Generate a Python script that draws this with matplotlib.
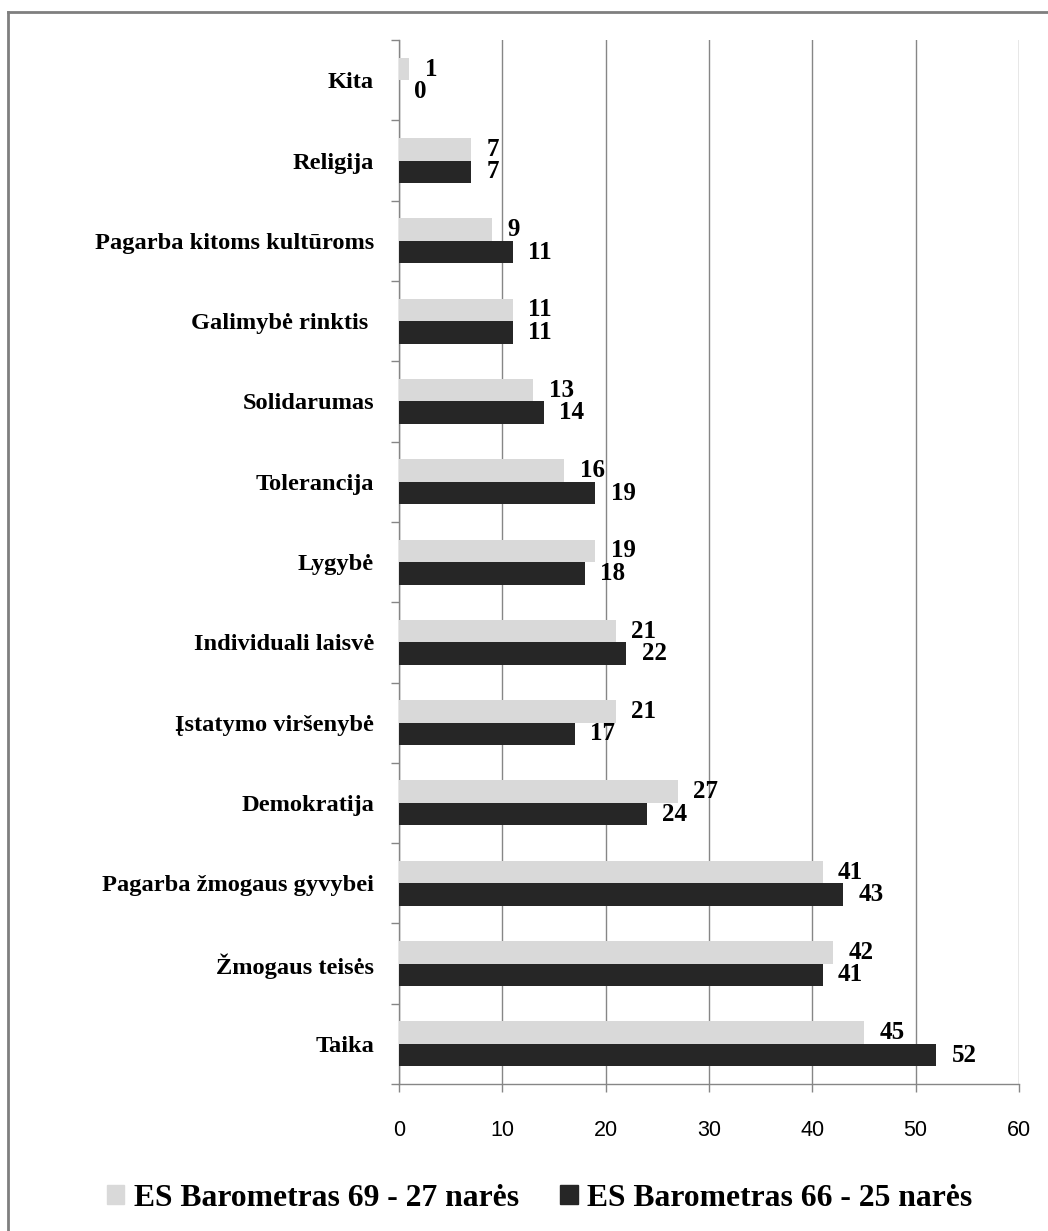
import numpy as np
import matplotlib.pyplot as plt
from matplotlib.patches import Patch
from matplotlib.lines import Line2D

categories = ['Taika', 'Žmogaus teisės', 'Pagarba žmogaus gyvybei', 'Demokratija',
              'Įstatymo viršenybė', 'Individuali laisvė', 'Lygybė', 'Tolerancija',
              'Solidarumas', 'Galimybė rinktis ', 'Pagarba kitoms kultūroms',
              'Religija', 'Kita']
eb69 = [45, 42, 41, 27, 21, 21, 19, 16, 13, 11, 9, 7, 1]
eb66 = [52, 41, 43, 24, 17, 22, 18, 19, 14, 11, 11, 7, 0]
series_names = ['ES Barometras 69 - 27 narės', 'ES Barometras 66 - 25 narės']
xticks = [0, 10, 20, 30, 40, 50, 60]

light = '#d9d9d9'
dark = '#262626'
grid_c = '#868686'
serif = 'Liberation Serif'

fig = plt.figure(figsize=(10.48, 12.31), dpi=100)
ax = fig.add_axes([0.3807, 0.1194, 0.5916, 0.848])

y = np.arange(len(categories))
h = 0.28
ax.barh(y + h / 2, eb69, height=h, color=light, zorder=3)
ax.barh(y - h / 2, eb66, height=h, color=dark, zorder=3)

for yi, v in zip(y, eb69):
    ax.annotate(str(v), (v, yi + h / 2), xytext=(11, 0), textcoords='offset points',
                ha='left', va='center', fontsize=18, fontweight='bold', family=serif)
for yi, v in zip(y, eb66):
    ax.annotate(str(v), (v, yi - h / 2), xytext=(11, 0), textcoords='offset points',
                ha='left', va='center', fontsize=18, fontweight='bold', family=serif)

ax.set_xlim(0, 60)
ax.set_ylim(-0.5, len(categories) - 0.5)
ax.set_xticks(xticks)
ax.set_xticklabels([str(t) for t in xticks], fontsize=15.5, family='Liberation Sans')
ax.set_yticks(y)
ax.set_yticklabels(categories, fontsize=17.6, fontweight='bold', family=serif)
ax.set_yticks(np.arange(-0.5, len(categories)), minor=True)
ax.tick_params(axis='y', which='major', length=0, pad=18)
ax.tick_params(axis='y', which='minor', length=6, color=grid_c, width=1)
ax.tick_params(axis='x', length=6, color=grid_c, width=1, pad=20)

ax.grid(axis='x', color=grid_c, linewidth=1, zorder=0)
for s in ['top', 'right']:
    ax.spines[s].set_visible(False)
for s in ['left', 'bottom']:
    ax.spines[s].set_color(grid_c)
    ax.spines[s].set_linewidth(1)

handles = [Patch(color=light), Patch(color=dark)]
fig.legend(handles, series_names, loc='center', bbox_to_anchor=(0.515, 1 - 1198 / 1231),
           ncol=2, frameon=False, handlelength=0.55, handleheight=0.55, handletextpad=0.3,
           columnspacing=1.3, prop={'family': serif, 'weight': 'bold', 'size': 22.8})

# outer frame (only left and top visible)
fig.add_artist(Line2D([8 / 1048, 8 / 1048], [0, 1 - 12 / 1231], color='#7f7f7f', lw=2,
                      transform=fig.transFigure))
fig.add_artist(Line2D([8 / 1048, 1], [1 - 12 / 1231, 1 - 12 / 1231], color='#7f7f7f', lw=2,
                      transform=fig.transFigure))

fig.savefig('out.png', dpi=100)
